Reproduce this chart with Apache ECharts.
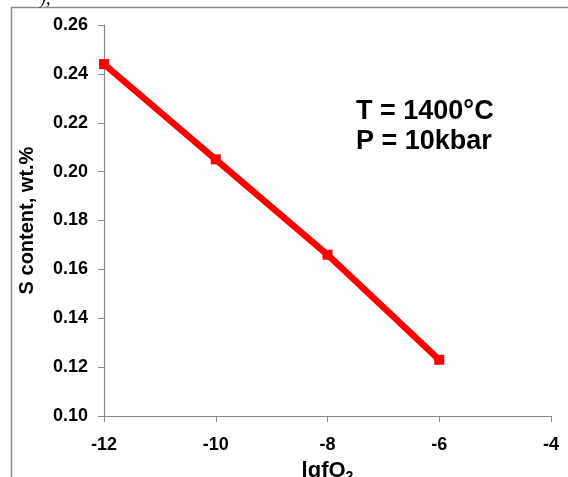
<!DOCTYPE html>
<html>
<head>
<meta charset="utf-8">
<script src="https://cdn.jsdelivr.net/npm/echarts@6/dist/echarts.min.js"></script>
<style>
html,body{margin:0;padding:0;background:#fff;}
#main{width:568px;height:477px;}
</style>
</head>
<body>
<div id="main"></div>
<script>
// 数据
var lgfO2 = [-12, -10, -8, -6];
var sContent = [0.244, 0.205, 0.166, 0.123];
var xTicks = [-12, -10, -8, -6, -4];
var yTicks = [0.10, 0.12, 0.14, 0.16, 0.18, 0.20, 0.22, 0.24, 0.26];

var chart = echarts.init(document.getElementById('main'));
var font = 'Liberation Sans, Arial, sans-serif';

var option = {
    backgroundColor: '#fff',
    animation: false,
    grid: {left: 104, right: 17, top: 25, bottom: 61, outerBoundsMode: 'none'},
    graphic: [
        {   // 外框
            type: 'rect',
            shape: {x: 11.5, y: 7.5, width: 600, height: 500},
            style: {fill: null, stroke: '#888', lineWidth: 1.5}
        },
        {
            type: 'text', left: 40, top: -10,
            style: {text: '),', font: 'italic 18px Liberation Serif, serif', fill: '#000'}
        },
        {
            type: 'text', left: 356, top: 97,
            style: {text: 'T = 1400°C\nP = 10kbar', font: 'bold 27px ' + font, fill: '#000', lineHeight: 30}
        }
    ],
    xAxis: {
        type: 'value',
        min: xTicks[0], max: xTicks[xTicks.length - 1], interval: 2,
        name: '{a|lgfO}{s|2}',
        nameLocation: 'middle',
        nameGap: 42,
        nameTextStyle: {
            rich: {
                a: {fontFamily: font, fontWeight: 'bold', fontSize: 22, color: '#000'},
                s: {fontFamily: font, fontWeight: 'bold', fontSize: 14, color: '#000', verticalAlign: 'bottom', padding: [12, 0, 0, 0]}
            }
        },
        axisLine: {lineStyle: {color: '#888', width: 1.2}},
        axisTick: {inside: false, length: 6, lineStyle: {color: '#888'}},
        axisLabel: {color: '#000', fontFamily: font, fontWeight: 'bold', fontSize: 18, margin: 20},
        splitLine: {show: false}
    },
    yAxis: {
        type: 'value',
        min: yTicks[0], max: yTicks[yTicks.length - 1], interval: 0.02,
        name: 'S content, wt.%',
        nameLocation: 'middle',
        nameGap: 67,
        nameTextStyle: {fontFamily: font, fontWeight: 'bold', fontSize: 20, color: '#000'},
        axisLine: {show: true, lineStyle: {color: '#888', width: 1.2}},
        axisTick: {show: true, inside: false, length: 6, lineStyle: {color: '#888'}},
        axisLabel: {
            color: '#000', fontFamily: font, fontWeight: 'bold', fontSize: 18, margin: 16,
            formatter: function (v) { return v.toFixed(2); }
        },
        splitLine: {show: false}
    },
    series: [{
        type: 'line',
        data: lgfO2.map(function (x, i) { return [x, sContent[i]]; }),
        lineStyle: {color: '#ff0000', width: 6.5},
        itemStyle: {color: '#ff0000'},
        symbol: 'rect',
        symbolSize: 10,
        showSymbol: true
    }]
};
chart.setOption(option);
</script>
</body>
</html>
